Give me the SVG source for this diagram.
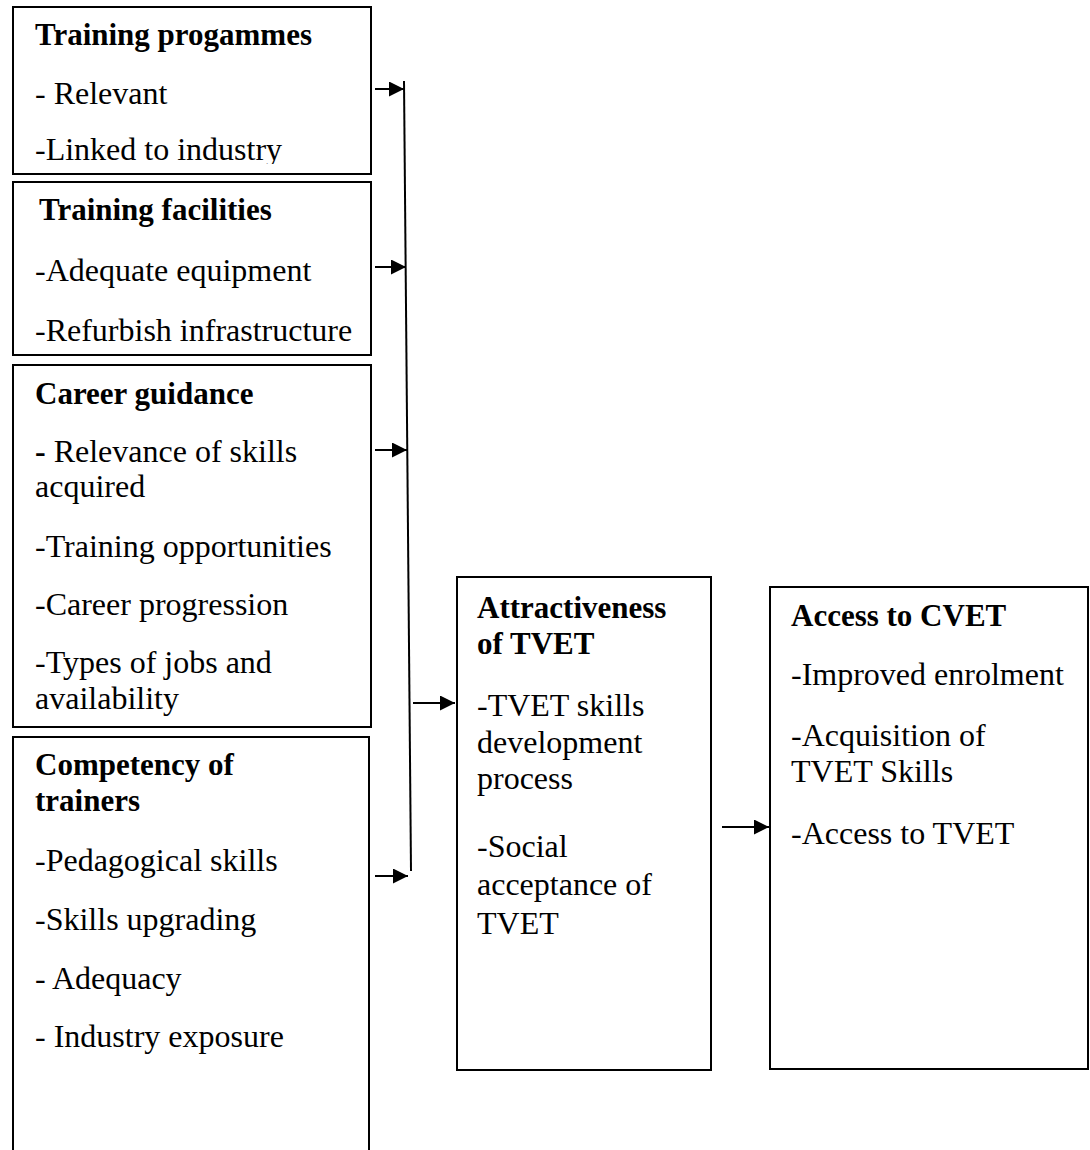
<svg xmlns="http://www.w3.org/2000/svg" width="1090" height="1150" viewBox="0 0 1090 1150">
<style>
  .box { fill: #fff; stroke: #000; stroke-width: 2; }
  .t { font-family: "Liberation Serif", "Times New Roman", serif; font-size: 32px; fill: #000; }
  .b { font-weight: bold; font-size: 31px; }
  .ln { stroke: #000; stroke-width: 2; fill: none; }
  .ar { stroke: #000; stroke-width: 2; fill: none; marker-end: url(#ah); }
</style>
<defs>
  <marker id="ah" markerUnits="userSpaceOnUse" markerWidth="16" markerHeight="15" refX="15" refY="7.5" orient="auto">
    <path d="M0,0 L15,7.5 L0,15 Z" fill="#000"/>
  </marker>
  <clipPath id="c1"><rect x="13" y="7" width="358" height="157"/></clipPath>
</defs>
<rect width="1090" height="1150" fill="#fff"/>

<g id="training-programmes">
  <rect class="box" x="13" y="7" width="358" height="167"/>
  <g clip-path="url(#c1)">
    <text class="t b" x="35" y="45">Training progammes</text>
    <text class="t" x="35" y="104">- Relevant</text>
    <text class="t" x="35" y="160">-Linked to industry</text>
  </g>
</g>

<g id="training-facilities">
  <rect class="box" x="13" y="182" width="358" height="173"/>
  <text class="t b" x="39" y="220">Training facilities</text>
  <text class="t" x="35" y="281">-Adequate equipment</text>
  <text class="t" x="35" y="341">-Refurbish infrastructure</text>
</g>

<g id="career-guidance">
  <rect class="box" x="13" y="365" width="358" height="362"/>
  <text class="t b" x="35" y="404">Career guidance</text>
  <text class="t" x="35" y="462"><tspan font-weight="bold">-</tspan> Relevance of skills</text>
  <text class="t" x="35" y="497">acquired</text>
  <text class="t" x="35" y="557">-Training opportunities</text>
  <text class="t" x="35" y="615">-Career progression</text>
  <text class="t" x="35" y="673">-Types of jobs and</text>
  <text class="t" x="35" y="709">availability</text>
</g>

<g id="competency-of-trainers">
  <path class="box" d="M13,1152 L13,737 L369,737 L369,1152"/>
  <text class="t b" x="35" y="775">Competency of</text>
  <text class="t b" x="35" y="811">trainers</text>
  <text class="t" x="35" y="871">-Pedagogical skills</text>
  <text class="t" x="35" y="930">-Skills upgrading</text>
  <text class="t" x="35" y="989">- Adequacy</text>
  <text class="t" x="35" y="1047">- Industry exposure</text>
</g>

<g id="attractiveness-of-tvet">
  <rect class="box" x="457" y="577" width="254" height="493"/>
  <text class="t b" x="477" y="618">Attractiveness</text>
  <text class="t b" x="477" y="654">of TVET</text>
  <text class="t" x="477" y="716">-TVET skills</text>
  <text class="t" x="477" y="753">development</text>
  <text class="t" x="477" y="789">process</text>
  <text class="t" x="477" y="857">-Social</text>
  <text class="t" x="477" y="895">acceptance of</text>
  <text class="t" x="477" y="934">TVET</text>
</g>

<g id="access-to-cvet">
  <rect class="box" x="770" y="587" width="318" height="482"/>
  <text class="t b" x="791" y="626">Access to CVET</text>
  <text class="t" x="791" y="685">-Improved enrolment</text>
  <text class="t" x="791" y="746">-Acquisition of</text>
  <text class="t" x="791" y="782">TVET Skills</text>
  <text class="t" x="791" y="844">-Access to TVET</text>
</g>

<g id="connectors">
  <line class="ln" x1="404" y1="81" x2="411" y2="871"/>
  <line class="ar" x1="375" y1="89" x2="404" y2="89"/>
  <line class="ar" x1="375" y1="267" x2="406" y2="267"/>
  <line class="ar" x1="375" y1="450" x2="407" y2="450"/>
  <line class="ar" x1="375" y1="876" x2="408" y2="876"/>
  <line class="ar" x1="413" y1="703" x2="455" y2="703"/>
  <line class="ar" x1="722" y1="827" x2="769" y2="827"/>
</g>
</svg>
